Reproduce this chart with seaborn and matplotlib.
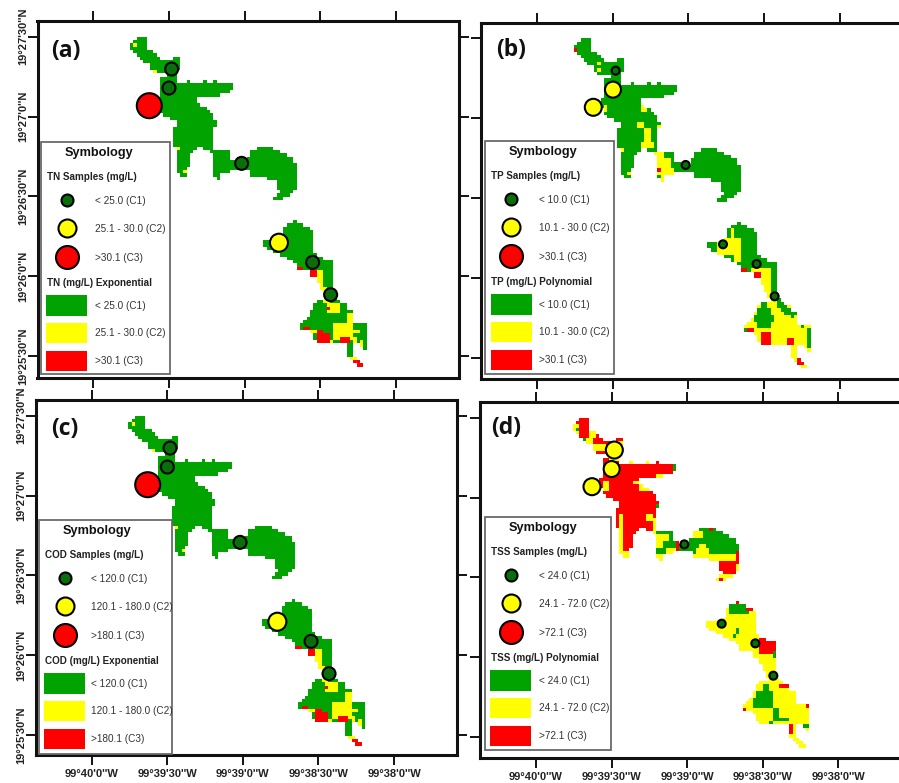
import numpy as np
import pandas as pd
import seaborn as sns
import matplotlib.pyplot as plt
from matplotlib.colors import ListedColormap
from matplotlib.patches import Rectangle

sns.set_style('white')
plt.rcParams['font.family'] = ['Liberation Sans', 'DejaVu Sans']

# class grid cells: (row0, row1, col0, col1), 1=C1 2=C2 3=C3
lake = [
    (0,1,13,16),(1,2,12,16),(2,4,11,16),(4,5,12,18),(5,6,13,19),(6,7,14,20),(6,7,24,26),
    (7,8,15,26),(8,10,17,26),(10,11,18,25),(11,12,22,25),(12,13,20,25),(13,14,20,25),
    (13,14,28,29),(13,14,33,34),(13,14,36,37),(14,16,20,42),(16,17,20,41),(17,18,20,38),
    (18,20,19,31),(20,21,19,32),(21,22,20,34),(22,23,20,35),(23,24,21,36),(24,25,23,36),
    (25,27,25,37),(27,33,24,36),(33,34,25,31),(33,34,33,36),(34,35,25,30),(34,35,35,41),
    (35,37,25,29),(35,37,36,41),(37,38,25,29),(37,38,36,43),(38,39,25,29),(38,40,36,61),
    (39,40,25,28),(40,41,25,28),(40,41,36,41),(41,42,26,28),(41,42,36,38),(42,43,37,38),
    (33,34,49,54),(34,35,47,56),(35,36,47,58),(36,37,46,60),(37,38,46,60),(40,42,47,61),
    (42,43,52,61),(43,46,55,61),(46,47,56,60),(47,48,55,59),(48,49,54,57),
    (55,56,60,61),(56,57,58,63),(57,58,57,65),(58,60,57,66),(60,61,56,66),(61,63,51,66),
    (63,64,52,66),(64,65,54,66),(65,66,56,67),(66,67,58,69),(67,68,60,72),(68,69,61,72),
    (69,70,61,72),(70,72,65,72),(72,74,67,72),(74,76,68,72),(76,78,69,72),(78,79,70,73),
    (79,80,67,74),(80,82,66,76),(82,84,65,78),(84,85,64,78),(85,86,63,78),(86,88,62,82),
    (88,89,65,82),(89,91,66,82),(91,92,67,82),(92,93,76,78),(92,93,80,82),(93,94,76,78),
    (93,94,81,82),(94,96,76,78),(96,97,77,79),(97,98,78,80),(98,99,79,81),
]

paint_a = [
    (2,3,12,13,2),(10,11,18,19,2),(33,34,25,26,2),(40,41,27,28,2),
    (70,75,67,69,2),(75,77,68,70,2),(77,80,69,71,2),(80,83,70,74,2),(83,88,76,78,2),
    (86,91,72,78,2),(88,89,78,80,2),(90,92,78,79,2),(91,93,80,81,2),(88,89,65,67,2),
    (91,92,66,72,2),(96,97,77,79,2),
    (69,70,61,63,3),(70,74,65,67,3),(81,82,70,71,3),(87,88,63,65,3),(88,89,67,69,3),
    (89,92,67,71,3),(90,92,74,77,3),(97,99,78,81,3),
]
paint_b = [
    (3,4,11,12,3),(7,8,18,19,2),(9,10,18,19,2),(20,22,20,21,2),(20,22,31,33,2),
    (25,27,30,32,2),(27,31,32,34,2),(31,33,31,35,2),(26,28,36,37,2),(33,34,25,26,2),
    (40,41,27,28,2),(34,36,35,38,2),(36,39,36,40,2),(39,41,36,41,2),(41,43,37,38,2),
    (39,40,36,37,3),
    (57,61,58,59,2),(60,65,54,61,2),(61,64,51,54,1),(65,67,59,61,2),
    (69,72,64,70,2),(72,76,67,70,2),(76,79,69,72,2),(79,99,62,82,2),
    (79,81,67,69,1),(81,83,66,70,1),(83,85,65,71,1),(85,87,66,70,1),
    (79,80,72,74,1),(80,81,72,75,1),(81,82,73,77,1),(82,83,74,78,1),(83,84,76,77,1),
    (87,93,81,82,1),(86,87,79,80,1),(91,92,76,77,1),(87,89,62,63,1),
    (88,92,67,70,3),(90,92,75,77,3),(87,88,63,65,3),(96,98,78,80,3),(69,70,61,63,3),(70,73,65,67,3),
]
paint_c = paint_a
paint_d = [
    (0,43,0,46,3),
    (2,5,11,13,2),(3,4,12,13,1),(6,8,14,17,2),(8,10,17,21,2),(3,6,16,18,2),(6,7,14,15,1),
    (7,9,24,26,2),(10,13,22,26,2),(13,14,28,34,2),(14,17,41,42,1),(17,18,36,38,2),
    (19,20,29,32,2),(20,22,31,34,2),(19,22,20,22,2),(29,41,25,26,2),(40,42,26,28,2),
    (29,31,33,35,2),(30,34,35,37,2),(26,28,36,37,1),
    (33,43,35,42,2),(33,35,36,40,1),(37,39,38,42,1),(39,41,36,39,1),(34,37,40,41,1),
    (33,42,46,61,1),(34,36,46,50,2),(39,42,47,52,2),(38,39,49,51,2),(38,41,43,48,1),
    (41,49,52,62,2),(43,47,55,60,3),(48,49,55,56,3),(40,44,60,61,3),(33,34,52,53,3),
    (56,57,59,60,3),(57,58,63,65,3),
    (50,99,50,90,2),
    (56,59,58,64,1),(57,58,63,65,3),(55,56,60,61,3),(66,71,67,72,3),(60,61,51,52,2),
    (63,65,60,61,1),(65,66,59,60,1),(72,73,64,65,1),(70,72,71,72,1),
    (80,82,68,70,1),(82,84,66,71,1),(84,87,65,71,1),(87,91,71,73,1),(90,91,73,76,1),
    (92,93,80,82,1),(91,92,70,71,1),(92,95,76,77,3),(80,81,73,76,3),(86,87,81,82,3),(87,88,62,63,3),
]

# sample points in grid units, same stations in every panel
sample_col = [23.5, 22.7, 16.8, 44.5, 55.7, 65.8, 71.2]
sample_row = [9.7, 15.4, 20.7, 38.0, 61.8, 67.7, 77.4]
samples_a = ['C1', 'C1', 'C3', 'C1', 'C2', 'C1', 'C1']
samples_b = ['C1', 'C2', 'C2', 'C1', 'C1', 'C1', 'C1']
samples_c = ['C1', 'C1', 'C3', 'C1', 'C2', 'C1', 'C1']
samples_d = ['C2', 'C2', 'C2', 'C1', 'C1', 'C1', 'C1']

lon_labels = ["99°40'0''W", "99°39'30''W", "99°39'0''W", "99°38'30''W", "99°38'0''W"]
lat_labels = ["19°27'30''N", "19°27'0''N", "19°26'30''N", "19°26'0''N", "19°25'30''N"]

class_a = ['< 25.0 (C1)', '25.1 - 30.0 (C2)', '>30.1 (C3)']
class_b = ['< 10.0 (C1)', '10.1 - 30.0 (C2)', '>30.1 (C3)']
class_c = ['< 120.0 (C1)', '120.1 - 180.0 (C2)', '>180.1 (C3)']
class_d = ['< 24.0 (C1)', '24.1 - 72.0 (C2)', '>72.1 (C3)']

green = '#00a300'
dark = '#0a6e0a'
colors = {'C1': dark, 'C2': '#ffff00', 'C3': '#ff0000'}
W, H = 899, 783
CELL = 10 / 3  # px per grid cell
X_STEP, Y_STEP = 22.68, 23.94


def make_grid(paint):
    grid = np.zeros((99, 84))
    for r0, r1, c0, c1 in lake:
        grid[r0:r1, c0:c1] = 1
    is_lake = grid > 0
    for r0, r1, c0, c1, k in paint:
        grid[r0:r1, c0:c1] = k
    grid[~is_lake] = 0
    return grid


def panel(frame, origin, paint, classes, dots, show_x, show_y):
    left, top, right, bottom = frame
    ax = fig.add_axes([left / W, 1 - bottom / H, (right - left) / W, (bottom - top) / H])
    grid = make_grid(paint)
    sns.heatmap(grid, mask=grid == 0, cmap=ListedColormap([green, '#ffff00', '#ff0000']),
                vmin=0.5, vmax=3.5, cbar=False, xticklabels=False, yticklabels=False, ax=ax)
    df = pd.DataFrame({'col': sample_col, 'row': sample_row, 'cls': classes, 'd': dots})
    sizes = {d: (d * 0.72) ** 2 for d in set(dots)}
    sns.scatterplot(data=df, x='col', y='row', hue='cls', palette=colors, size='d', sizes=sizes,
                    edgecolor='black', linewidth=1.5, legend=False, ax=ax, zorder=5, clip_on=False)
    ax.set_xlim((left - origin[0]) / CELL, (right - origin[0]) / CELL)
    ax.set_ylim((bottom - origin[1]) / CELL, (top - origin[1]) / CELL)
    ax.set_xlabel('')
    ax.set_ylabel('')
    ax.set_xticks([i * X_STEP for i in range(5)])
    ax.set_yticks([i * Y_STEP for i in range(5)])
    ax.set_xticklabels(lon_labels if show_x else [], fontsize=8, fontweight='bold', color='#222222')
    ax.set_yticklabels(lat_labels if show_y else [], fontsize=8, fontweight='bold', color='#222222',
                       rotation=90, va='center')
    ax.tick_params(top=True, bottom=True, left=True, right=True, length=7, width=1.4, color='#111111')
    ax.tick_params(axis='x', pad=3)
    ax.tick_params(axis='y', pad=0)
    for s in ax.spines.values():
        s.set_visible(True)
        s.set_linewidth(2.2)
        s.set_color('#111111')
    ax.set_facecolor('white')
    return ax


def legend_box(box, name, method, classes, label_dx):
    left, top, width, height = box
    lax.add_patch(Rectangle((left, top), width, height, fc='white', ec='#6a6a6a', lw=1.3))
    lax.text(left + 58, top + 10.5, 'Symbology', fontsize=9.2, fontweight='bold', ha='center', va='center', color='#111111')
    lax.text(left + 6, top + 35, name + ' Samples (mg/L)', fontsize=7.1, fontweight='bold', va='center', color='#222222')
    lax.text(left + 6, top + 140.5, name + ' (mg/L) ' + method, fontsize=7.1, fontweight='bold', va='center', color='#222222')
    for i, (cls, d) in enumerate(zip(['C1', 'C2', 'C3'], [12, 18, 23])):
        y = top + [57.7, 85.7, 114.7][i]
        lax.scatter([left + 26], [y], s=(d * 0.72) ** 2, c=colors[cls], edgecolors='black', linewidths=1.5, zorder=6)
        lax.text(left + label_dx, y + 0.6, classes[i], fontsize=7.2, va='center', color='#333333')
        y2 = top + [153, 180.7, 208.7][i]
        lax.add_patch(Rectangle((left + 5.5, y2), 41, 20.4, fc=[green, '#ffff00', '#ff0000'][i], ec='none'))
        lax.text(left + label_dx, y2 + 10.3, classes[i], fontsize=7.2, va='center', color='#333333')


fig = plt.figure(figsize=(W / 100, H / 100), dpi=100)

panel((37.5, 21, 459, 378), (93.3, 36.7), paint_a, samples_a, [13, 13, 25, 13, 18, 13, 13], False, True)
panel((481, 23, 1000, 379), (537.3, 38.3), paint_b, samples_b, [8, 16, 17, 8, 8, 8, 8], False, False)
panel((36, 400, 457, 755), (91.7, 415.7), paint_c, samples_c, [13, 13, 25, 13, 18, 13, 13], True, True)
panel((480, 402, 1000, 758), (536, 417.7), paint_d, samples_d, [17, 16, 17, 8, 8, 8, 8], True, False)

lax = fig.add_axes([0, 0, 1, 1])
lax.set_xlim(0, W)
lax.set_ylim(H, 0)
lax.axis('off')

legend_box((40.7, 142.3, 129.3, 231.7), 'TN', 'Exponential', class_a, 54.3)
legend_box((485, 141.3, 129.3, 232.7), 'TP', 'Polynomial', class_b, 54)
legend_box((38.7, 520.3, 133.3, 233.4), 'COD', 'Exponential', class_c, 52)
legend_box((484.7, 517.3, 126.3, 233), 'TSS', 'Polynomial', class_d, 54.6)

for txt, x, y in [('(a)', 66, 51), ('(b)', 511, 50), ('(c)', 65, 429), ('(d)', 506, 428)]:
    lax.text(x, y, txt, fontsize=16.5, fontweight='bold', family='Open Sans', ha='center', va='center', color='#111111')

fig.savefig('out.png', dpi=100)
